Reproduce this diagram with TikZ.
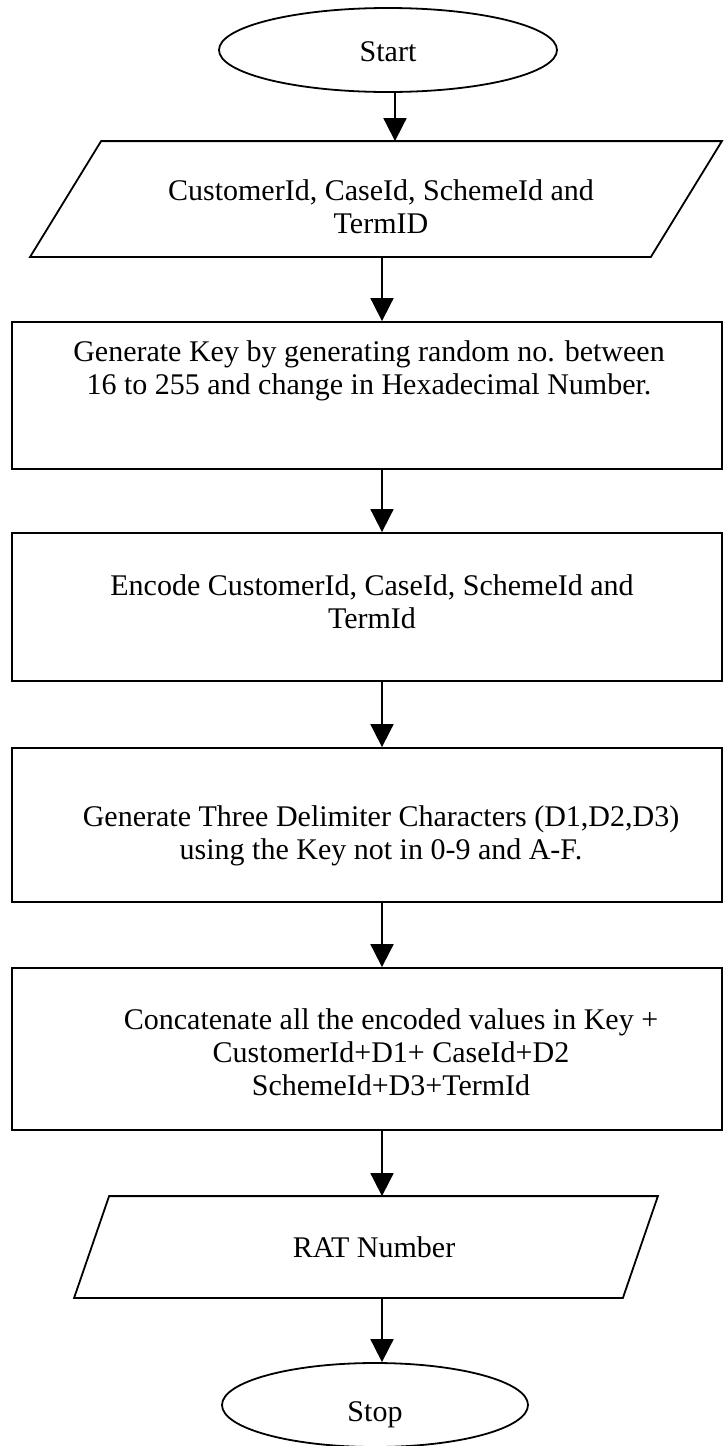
\documentclass[tikz,border=0pt]{standalone}
\usepackage{fontspec}
\setmainfont{Liberation Serif}
\usetikzlibrary{shapes.geometric,arrows.meta,calc}
\begin{document}
\begin{tikzpicture}[x=0.5pt,y=-0.5pt,
  line width=0.9pt,
  flowtext/.style={align=center,font=\fontsize{15}{16.4}\selectfont,inner sep=0pt},
  terminal/.style={ellipse,draw,inner sep=0pt,minimum height=42pt},
  procbox/.style={rectangle,draw,minimum width=355pt,inner sep=0pt},
  iobox/.style={rectangle,inner sep=0pt},
  flow/.style={-{Triangle[length=11.5pt,width=11.5pt]}},
]
\useasboundingbox (0,0) rectangle (726,1446);

% spines of the connectors
\coordinate (spineA) at (395,0);
\coordinate (spineB) at (382,0);

% terminals
\node[terminal,minimum width=169pt] (start) at (388,50) {};
\node[terminal,minimum width=153pt] (stop) at (375,1405) {};

% input / output parallelograms (frame nodes, outline drawn from their corners)
\node[iobox,minimum width=345pt,minimum height=57pt] (in1) at (376,199) {};
\draw ([xshift=35.5pt]in1.north west) -- (in1.north east)
      -- ([xshift=-35.5pt]in1.south east) -- (in1.south west) -- cycle;
\node[iobox,minimum width=291pt,minimum height=50pt] (out1) at (366,1247) {};
\draw ([xshift=17.5pt]out1.north west) -- (out1.north east)
      -- ([xshift=-17.5pt]out1.south east) -- (out1.south west) -- cycle;

% process boxes
\node[procbox,minimum height=73.5pt] (key) at (367,395.5) {};
\node[procbox,minimum height=74pt] (enc) at (367,607) {};
\node[procbox,minimum height=77pt] (delim) at (367,825) {};
\node[procbox,minimum height=81pt] (concat) at (367,1049) {};

% texts
\node[flowtext] (tstart) at (388,52) {Start};
\node[flowtext] (tin1) at (381,207) {CustomerId, CaseId, SchemeId and\\TermID};
\node[flowtext] (tkey) at (369,371) {Generate Key by generating random no. between\\16 to 255 and change in Hexadecimal Number.};
\node[flowtext] (tenc) at (372,602) {Encode CustomerId, CaseId, SchemeId and\\TermId};
\node[flowtext] (tdelim) at (381,836) {Generate Three Delimiter Characters (D1,D2,D3)\\using the Key not in 0-9 and A-F.};
\node[flowtext] (tconcat) at (391,1052) {Concatenate all the encoded values in Key +\\CustomerId+D1+ CaseId+D2\\SchemeId+D3+TermId};
\node[flowtext] (tout1) at (374,1247) {RAT Number};
\node[flowtext] (tstop) at (375,1415) {Stop};

% connectors
\draw[flow] (start.south -| spineA) -- (in1.north -| spineA);
\draw[flow] (in1.south -| spineB) -- (key.north -| spineB);
\draw[flow] (key.south -| spineB) -- (enc.north -| spineB);
\draw[flow] (enc.south -| spineB) -- (delim.north -| spineB);
\draw[flow] (delim.south -| spineB) -- (concat.north -| spineB);
\draw[flow] (concat.south -| spineB) -- (out1.north -| spineB);
\draw[flow] (out1.south -| spineB) -- (stop.north -| spineB);
\end{tikzpicture}
\end{document}
